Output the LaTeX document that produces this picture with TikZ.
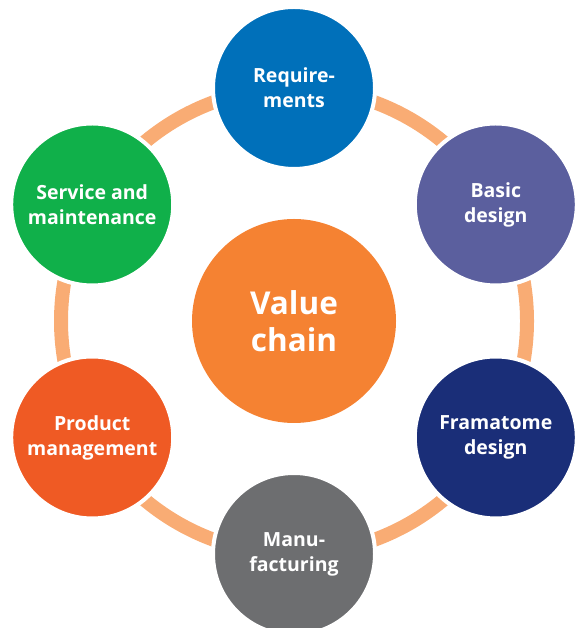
\documentclass[tikz,border=0pt]{standalone}
\usepackage{fontspec}
\setmainfont{Open Sans}
\usepackage{tikz}

\definecolor{ringorange}{RGB}{249,172,116}
\definecolor{valueorange}{RGB}{245,130,50}
\definecolor{reqblue}{RGB}{0,112,186}
\definecolor{basicpurple}{RGB}{91,95,158}
\definecolor{framablue}{RGB}{26,46,120}
\definecolor{manugray}{RGB}{109,110,112}
\definecolor{prodorange}{RGB}{239,90,36}
\definecolor{servgreen}{RGB}{16,176,74}

\begin{document}
\begin{tikzpicture}[x=1pt, y=1pt,
    stage/.style={circle, minimum size=162pt, inner sep=0pt, draw=white, line width=4pt,
      align=center, text=white, font=\bfseries\fontsize{19.5}{25}\selectfont}]
    \useasboundingbox (0,0) rectangle (578,628);
    \node[circle, minimum size=204pt, inner sep=0pt, fill=valueorange, align=center,
          text=white, font=\bfseries\fontsize{31.5}{37}\selectfont] (value) at (294,307) {Value\\chain};
    \draw[ringorange, line width=14pt] (value.center) circle (233);
    \foreach \a/\n/\c/\t in {90/req/reqblue/{Require-\\ments},
                             30/basic/basicpurple/{Basic\\design},
                             -30/frama/framablue/{Framatome\\design},
                             -90/manu/manugray/{Manu-\\facturing},
                             -150/prod/prodorange/{Product\\management},
                             150/serv/servgreen/{Service and\\maintenance}} {
      \node[stage, fill=\c] (\n) at ([shift={(\a:233)}]value.center) {\t};
    }
 \end{tikzpicture}
\end{document}
